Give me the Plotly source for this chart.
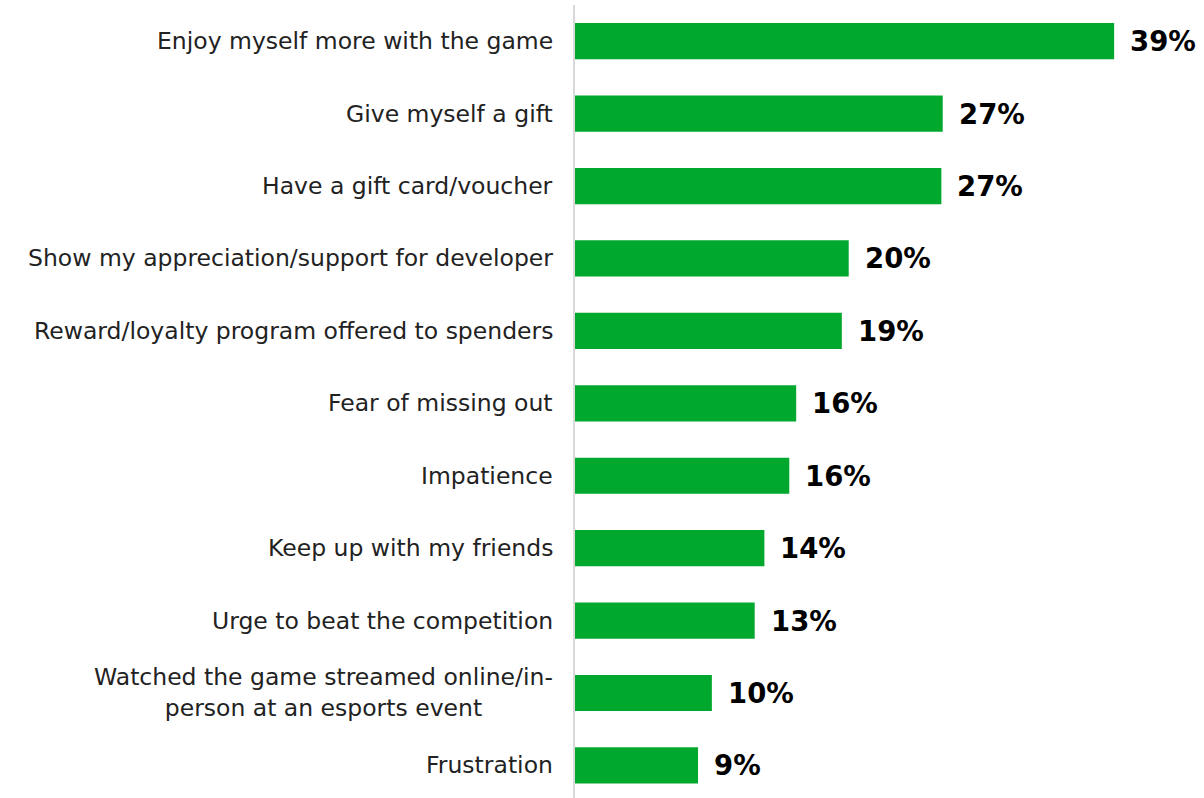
import plotly.graph_objects as go

categories = [
    "Enjoy myself more with the game",
    "Give myself a gift",
    "Have a gift card/voucher",
    "Show my appreciation/support for developer",
    "Reward/loyalty program offered to spenders",
    "Fear of missing out",
    "Impatience",
    "Keep up with my friends",
    "Urge to beat the competition",
    "Watched the game streamed online/in-<br>person at an esports event",
    "Frustration",
]
values = [39.0, 26.6, 26.5, 19.8, 19.3, 16.0, 15.5, 13.7, 13.0, 9.9, 8.9]
value_labels = ["39%", "27%", "27%", "20%", "19%", "16%", "16%", "14%", "13%", "10%", "9%"]

GREEN = "#00A82D"
LABEL_FONT = "DejaVu Sans"
VALUE_FONT = "DejaVu Sans"
LABEL_SIZE = 23.5

fig = go.Figure()
fig.add_trace(go.Bar(
    x=values,
    y=categories,
    orientation="h",
    marker=dict(color=GREEN, line=dict(width=0)),
    hoverinfo="skip",
))

annotations = []
for cat, v, lab in zip(categories, values, value_labels):
    annotations.append(dict(
        x=v, y=cat, xref="x", yref="y",
        text=f"<b>{lab}</b>", showarrow=False,
        xanchor="left", yanchor="middle", xshift=14,
        font=dict(family=VALUE_FONT, size=27.5, color="#000000"),
    ))
    annotations.append(dict(
        x=0, y=cat, xref="x", yref="y", text=cat,
        showarrow=False, align="center",
        xanchor="right", yanchor="middle", xshift=-20,
        font=dict(family=LABEL_FONT, size=LABEL_SIZE, color="#222222"),
    ))

fig.update_layout(
    width=1204, height=798,
    margin=dict(l=575, r=0, t=5, b=0),
    paper_bgcolor="white", plot_bgcolor="white",
    bargap=0.5,
    showlegend=False,
    annotations=annotations,
    xaxis=dict(range=[0, 45.5], visible=False, fixedrange=True),
    yaxis=dict(
        categoryorder="array", categoryarray=categories[::-1],
        autorange=False, range=[-0.45, 10.5],
        showticklabels=False, showgrid=False, zeroline=False,
        showline=True, linecolor="#d9d9d9", linewidth=2, ticks="",
    ),
)

fig.write_html(
    "out.html",
    config={"displayModeBar": False},
    post_script="document.body.style.margin='0';document.body.style.overflow='hidden';",
)
